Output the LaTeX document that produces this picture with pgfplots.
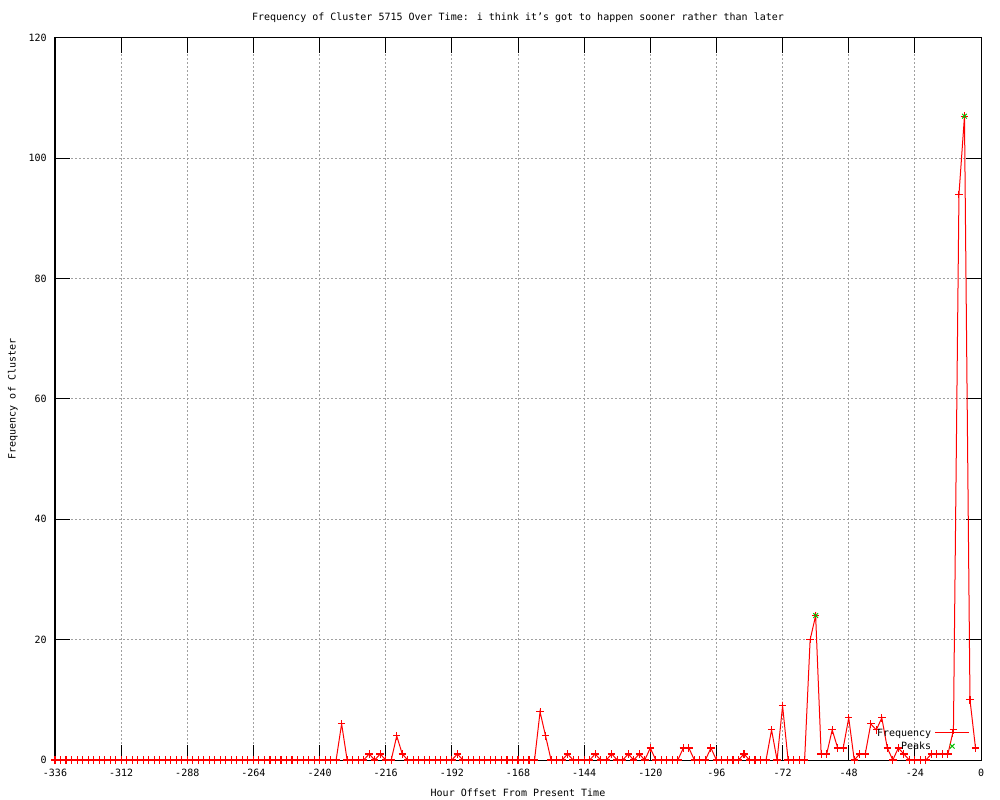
\documentclass[border=0pt]{standalone}
\usepackage{fontspec}
\setmainfont{DejaVu Sans Mono}
\usepackage{pgfplots}
\pgfplotsset{compat=1.18}
\definecolor{gpgreen}{RGB}{0,192,0}
\definecolor{gpgrid}{RGB}{160,160,160}
\pgfplotsset{
  mylegendred/.style={legend image code/.code={\draw[mark repeat=2,mark phase=2,##1,red] plot coordinates {(0cm,0cm) (0.45cm,0cm) (0.9cm,0cm)};}},
  mylegendgreen/.style={legend image code/.code={\draw[mark repeat=2,mark phase=2,##1,gpgreen] plot coordinates {(0cm,0cm) (0.45cm,0cm) (0.9cm,0cm)};}}
}
\begin{document}
\fontsize{7.5pt}{10pt}\selectfont
\begin{tikzpicture}
\useasboundingbox (0,0) rectangle (750pt,600pt);
\begin{axis}[
  at={(41.25pt,30pt)}, anchor=south west,
  scale only axis, width=694.5pt, height=541.5pt,
  xmin=-336, xmax=0, ymin=0, ymax=120,
  xtick={-336,-312,...,0}, ytick={0,20,...,120},
  minor tick num=0,
  tick align=inside, major tick length=11.6pt,
  tick style={black, line width=0.75pt},
  axis line style={black, line width=0.75pt},
  grid=major,
  major grid style={gpgrid, line width=0.75pt, dash pattern=on 1.2pt off 1.8pt},
  /pgf/number format/assume math mode=true,
  /pgf/number format/1000 sep={},
  font=\fontsize{7.5pt}{10pt}\selectfont,
  xticklabel style={anchor=center, yshift=-9.75pt},
  yticklabel style={anchor=east, inner sep=0pt, xshift=-6pt},
  title={Frequency of Cluster 5715 Over Time: i think it’s got to happen sooner rather than later},
  title style={at={(axis description cs:0.5,1.0277)}, anchor=center, inner sep=0pt, yshift=-6pt},
  xlabel={Hour Offset From Present Time},
  xlabel style={at={(axis description cs:0.5,-0.0457)}, anchor=center, inner sep=0pt},
  ylabel={Frequency of Cluster},
  ylabel style={at={(axis description cs:-0.0454,0.5)}, anchor=center, inner sep=0pt},
  legend style={draw=none, fill=none, at={(axis description cs:0.9881,0.0284)}, anchor=east,
    inner sep=0pt, row sep=0pt,
    nodes={inner ysep=0pt, inner xsep=2.5pt, text height=7.5pt, text depth=2.5pt},
    font=\fontsize{7.5pt}{10pt}\selectfont},
  legend cell align=right,
  legend plot pos=right,
]
\addplot[red, line width=0.75pt, mark=+, mark size=2.8pt, mark options={solid, draw=red, line width=0.8pt}, mylegendred]
coordinates {
(-336,0)(-334,0)(-332,0)(-330,0)(-328,0)(-326,0)(-324,0)(-322,0)(-320,0)(-318,0)
(-316,0)(-314,0)(-312,0)(-310,0)(-308,0)(-306,0)(-304,0)(-302,0)(-300,0)(-298,0)
(-296,0)(-294,0)(-292,0)(-290,0)(-288,0)(-286,0)(-284,0)(-282,0)(-280,0)(-278,0)
(-276,0)(-274,0)(-272,0)(-270,0)(-268,0)(-266,0)(-264,0)(-262,0)(-260,0)(-258,0)
(-256,0)(-254,0)(-252,0)(-250,0)(-248,0)(-246,0)(-244,0)(-242,0)(-240,0)(-238,0)
(-236,0)(-234,0)(-232,6)(-230,0)(-228,0)(-226,0)(-224,0)(-222,1)(-220,0)(-218,1)
(-216,0)(-214,0)(-212,4)(-210,1)(-208,0)(-206,0)(-204,0)(-202,0)(-200,0)(-198,0)
(-196,0)(-194,0)(-192,0)(-190,1)(-188,0)(-186,0)(-184,0)(-182,0)(-180,0)(-178,0)
(-176,0)(-174,0)(-172,0)(-170,0)(-168,0)(-166,0)(-164,0)(-162,0)(-160,8)(-158,4)
(-156,0)(-154,0)(-152,0)(-150,1)(-148,0)(-146,0)(-144,0)(-142,0)(-140,1)(-138,0)
(-136,0)(-134,1)(-132,0)(-130,0)(-128,1)(-126,0)(-124,1)(-122,0)(-120,2)(-118,0)
(-116,0)(-114,0)(-112,0)(-110,0)(-108,2)(-106,2)(-104,0)(-102,0)(-100,0)(-98,2)
(-96,0)(-94,0)(-92,0)(-90,0)(-88,0)(-86,1)(-84,0)(-82,0)(-80,0)(-78,0)
(-76,5)(-74,0)(-72,9)(-70,0)(-68,0)(-66,0)(-64,0)(-62,20)(-60,24)(-58,1)
(-56,1)(-54,5)(-52,2)(-50,2)(-48,7)(-46,0)(-44,1)(-42,1)(-40,6)(-38,5)
(-36,7)(-34,2)(-32,0)(-30,2)(-28,1)(-26,0)(-24,0)(-22,0)(-20,0)(-18,1)
(-16,1)(-14,1)(-12,1)(-10,5)(-8,94)(-6,107)(-4,10)(-2,2)
};
\addlegendentry{Frequency}
\addplot[gpgreen, only marks, mark=x, mark size=2.5pt, line width=0.75pt, mark options={draw=gpgreen}, mylegendgreen]
coordinates {(-60,24)(-6,107)};
\addlegendentry{Peaks}
\end{axis}
\end{tikzpicture}
\end{document}
